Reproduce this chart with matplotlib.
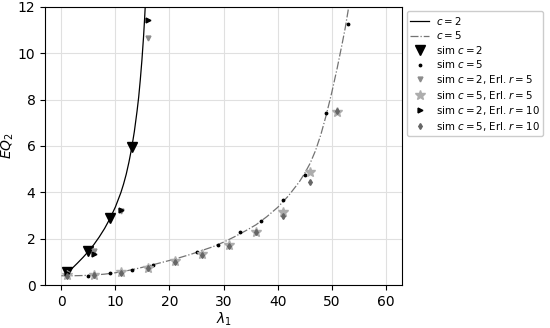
import matplotlib
matplotlib.use('Agg')
import matplotlib.pyplot as plt

# theoretical curves
lam_c2 = [1, 2, 3, 4, 5, 6, 7, 8, 9, 10, 11, 11.5, 12, 12.5, 13, 13.5, 14, 14.3, 14.6,
          14.9, 15.2, 15.4, 15.6, 15.8]
eq_c2 = [0.53, 0.72, 0.95, 1.19, 1.45, 1.74, 2.07, 2.44, 2.87, 3.37, 3.98, 4.35, 4.78,
         5.3, 5.9, 6.62, 7.5, 8.1, 8.85, 9.7, 10.7, 11.5, 12.4, 13.4]

lam_c5 = [0, 2, 4, 6, 8, 10, 12, 14, 16, 18, 20, 22, 24, 26, 28, 30, 32, 34, 36, 38, 40,
          42, 44, 45, 46, 47, 48, 49, 50, 51, 52, 52.5, 53, 53.5]
eq_c5 = [0.40, 0.40, 0.41, 0.43, 0.47, 0.53, 0.61, 0.71, 0.82, 0.94, 1.06, 1.19, 1.33,
         1.49, 1.65, 1.85, 2.08, 2.33, 2.6, 2.95, 3.35, 3.85, 4.45, 4.82, 5.25, 5.8, 6.5,
         7.35, 8.3, 9.35, 10.5, 11.1, 11.8, 12.6]

# simulations
sim_c2_lam = [1, 5, 9, 13]
sim_c2_eq = [0.55, 1.45, 2.9, 5.95]

sim_c5_lam = [1, 5, 9, 13, 17, 21, 25, 29, 33, 37, 41, 45, 49, 53]
sim_c5_eq = [0.42, 0.40, 0.51, 0.67, 0.87, 1.1, 1.42, 1.72, 2.27, 2.76, 3.66, 4.74, 7.44, 11.26]

erl_lam_c2 = [1, 6, 11, 16]
erl5_c2_eq = [0.48, 1.48, 3.2, 10.65]
erl10_c2_eq = [0.5, 1.35, 3.25, 11.45]

erl_lam_c5 = [1, 6, 11, 16, 21, 26, 31, 36, 41, 46, 51]
erl5_c5_eq = [0.42, 0.45, 0.55, 0.75, 1.02, 1.32, 1.72, 2.3, 3.16, 4.86, 7.46]
erl10_c5_eq = [0.40, 0.44, 0.54, 0.73, 1.0, 1.28, 1.68, 2.27, 2.97, 4.44, 7.5]

fig, ax = plt.subplots(figsize=(5.5, 3.28), dpi=100)
fig.subplots_adjust(left=0.082, right=0.731, bottom=0.131, top=0.979)

ax.plot(lam_c2, eq_c2, '-', color='black', lw=0.9, label='$c = 2$')
ax.plot(lam_c5, eq_c5, '-.', color='0.45', lw=0.9, label='$c = 5$')
ax.plot(sim_c2_lam, sim_c2_eq, 'v', color='black', ms=6.5, ls='none', label='sim $c = 2$')
ax.plot(sim_c5_lam, sim_c5_eq, '.', color='black', ms=3.5, ls='none', label='sim $c = 5$')
ax.plot(erl_lam_c2, erl5_c2_eq, 'v', color='0.55', ms=3.5, ls='none',
        label='sim $c = 2$, Erl. $r = 5$')
ax.plot(erl_lam_c5, erl5_c5_eq, '*', color='0.68', ms=7.5, ls='none',
        label='sim $c = 5$, Erl. $r = 5$')
ax.plot(erl_lam_c2, erl10_c2_eq, '>', color='black', ms=3.5, ls='none',
        label='sim $c = 2$, Erl. $r = 10$')
ax.plot(erl_lam_c5, erl10_c5_eq, 'd', color='0.4', ms=3, ls='none',
        label='sim $c = 5$, Erl. $r = 10$')

ax.set_xlim(-3, 63)
ax.set_ylim(0, 12)
ax.set_xticks([0, 10, 20, 30, 40, 50, 60])
ax.set_yticks([0, 2, 4, 6, 8, 10, 12])
ax.tick_params(labelsize=10)
ax.grid(True, color='0.88', lw=0.8)
ax.set_axisbelow(True)
ax.set_xlabel('$\\lambda_1$', fontsize=10, labelpad=1)
ax.set_ylabel('$EQ_2$', fontsize=10, labelpad=1)

ax.legend(loc='upper left', bbox_to_anchor=(1.013, 0.985), borderaxespad=0,
          fontsize=7.4, framealpha=1, edgecolor='0.8', handlelength=1.8,
          handletextpad=0.7, labelspacing=0.25, borderpad=0.35)

plt.savefig('out.png', dpi=100)
